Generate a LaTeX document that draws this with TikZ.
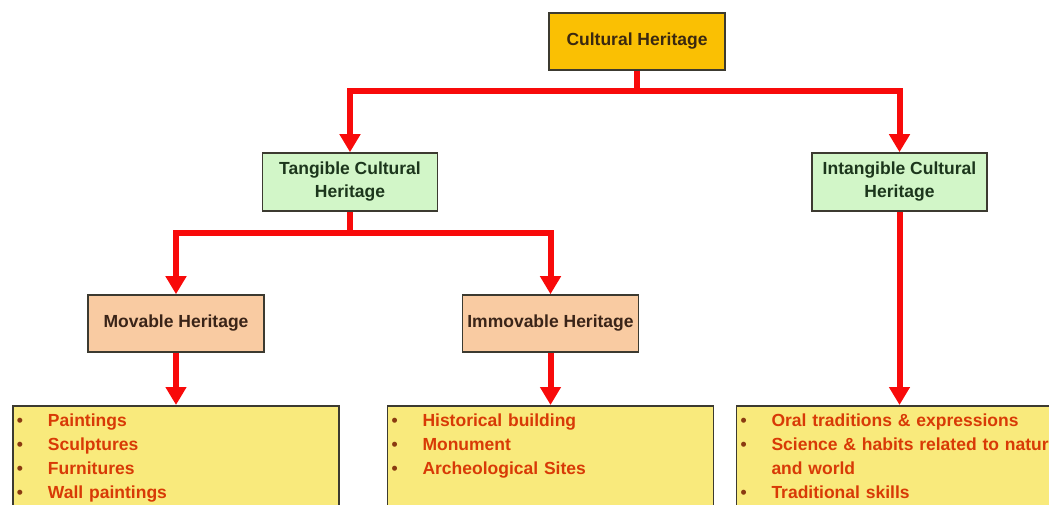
\documentclass[tikz,border=0pt]{standalone}
\usepackage{fontspec}
\setmainfont{Liberation Sans}
\usetikzlibrary{arrows.meta}

\definecolor{linkred}{HTML}{F80A0A}
\definecolor{boxline}{HTML}{3C3A30}
\definecolor{headfill}{HTML}{FAC003}
\definecolor{headtext}{HTML}{3A2810}
\definecolor{greenfill}{HTML}{D2F6C8}
\definecolor{greentext}{HTML}{1C361C}
\definecolor{peachfill}{HTML}{F9CBA2}
\definecolor{peachtext}{HTML}{3A2418}
\definecolor{listfill}{HTML}{F9EA7C}
\definecolor{listtext}{HTML}{D83A06}
\definecolor{dotbrown}{HTML}{8A3A10}

% one bullet line of a list box
\newcommand{\itm}[1]{\mbox{\makebox[15.5pt][l]{\textcolor{dotbrown}{\textbullet}}#1}}

\begin{document}
\begin{tikzpicture}[x=0.5pt,y=-0.5pt,
	box/.style={draw=boxline, line width=0.8pt, align=center, inner sep=1pt,
		font=\bfseries\fontsize{8.75}{11.5}\selectfont},
	headbox/.style={box, fill=headfill, text=headtext, minimum width=88pt, minimum height=28.5pt},
	kindbox/.style={box, fill=greenfill, text=greentext, minimum width=87.5pt, minimum height=29pt},
	typebox/.style={box, fill=peachfill, text=peachtext, minimum width=88pt, minimum height=28.5pt},
	listbox/.style={box, fill=listfill, text=listtext, anchor=north, align=left,
		text width=159pt, inner xsep=2pt, inner ysep=4pt, text depth=60pt,
		font=\bfseries\fontsize{8.75}{12}\selectfont},
	link/.style={draw=linkred, line width=3pt, -{Triangle[width=10pt,length=9pt]}}]

	% frame of the picture
	\useasboundingbox (0,0) rectangle (1049,504);
	\clip (0,0) rectangle (1049,504);

	% top
	\node[headbox] (ch) at (637,41.5) {Cultural Heritage};

	% tangible / intangible
	\node[kindbox] (tch) at (350,182) {Tangible Cultural\\Heritage};
	\node[kindbox] (ich) at (899.5,182) {Intangible Cultural\\Heritage};

	% movable / immovable
	\node[typebox] (mh)  at (176,323.5) {Movable Heritage};
	\node[typebox] (imh) at (550.5,323.5) {Immovable Heritage};

	% lists
	\node[listbox] (ml) at (176,405) {\itm{Paintings}\\\itm{Sculptures}\\\itm{Furnitures}\\\itm{Wall paintings}};
	\node[listbox] (il) at (550.5,405) {\itm{Historical building}\\\itm{Monument}\\\itm{Archeological Sites}};
	\node[listbox] (nl) at (899.5,405) {\itm{Oral traditions \& expressions}\\\itm{Science \& habits related to nature}\\\hspace*{15.5pt}and world\\\itm{Traditional skills}};

	% links
	\draw[link] (ch.south) -- ++(0,20) -| (tch.north);
	\draw[link] (ch.south) -- ++(0,20) -| (ich.north);
	\draw[link] (tch.south) -- ++(0,21) -| (mh.north);
	\draw[link] (tch.south) -- ++(0,21) -| (imh.north);
	\draw[link] (mh) -- (ml);
	\draw[link] (imh) -- (il);
	\draw[link] (ich) -- (nl);

\end{tikzpicture}
\end{document}
